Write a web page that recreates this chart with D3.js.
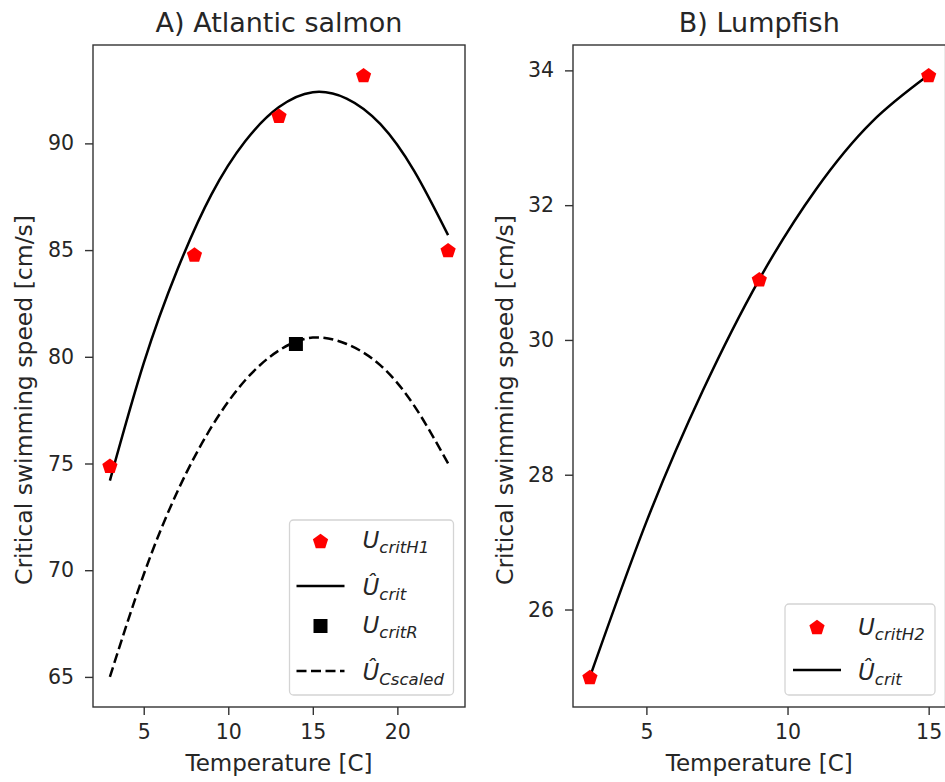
<!DOCTYPE html>
<html>
<head>
<meta charset="utf-8">
<script src="https://cdn.jsdelivr.net/npm/d3@7"></script>
<style>
  body { margin: 0; background: #fff; }
  svg { display: block; font-family: "DejaVu Sans", sans-serif; }
  .tick text { fill: #262626; }
</style>
</head>
<body>
<script>
// data
var salmonTemp = [3, 8, 13, 18, 23];
var salmonUcritH1 = [74.9, 84.8, 91.3, 93.2, 85.0];
var salmonRefTemp = [14];
var salmonUcritR = [80.6];
var salmonFitTemp = [3, 5, 7, 9, 11, 13, 15, 17, 19, 21, 23];
var salmonFitUcrit = [74.2, 79.7, 84.1, 87.6, 90.1, 91.7, 92.4, 92.1, 90.9, 88.7, 85.7];
var salmonFitScaled = [65.0, 69.8, 73.7, 76.7, 78.9, 80.3, 80.9, 80.6, 79.6, 77.7, 75.0];

var lumpTemp = [3, 9, 15];
var lumpUcritH2 = [25.0, 30.9, 33.93];
var lumpFitTemp = [3, 5, 7, 9, 11, 13, 15];
var lumpFitUcrit = [25.0, 27.3, 29.25, 30.9, 32.23, 33.24, 33.93];

var salmonXTicks = [5, 10, 15, 20];
var salmonYTicks = [65, 70, 75, 80, 85, 90];
var lumpXTicks = [5, 10, 15];
var lumpYTicks = [26, 28, 30, 32, 34];

var width = 945, height = 782;
var top_ = 45, bottom_ = 707;

var svg = d3.select("body").append("svg")
    .attr("width", width)
    .attr("height", height);
svg.append("rect").attr("width", width).attr("height", height).attr("fill", "#fff");

// pad the data extent by 5% on each side, like matplotlib does
function padded(vals) {
  var lo = d3.min(vals), hi = d3.max(vals), p = (hi - lo) * 0.05;
  return [lo - p, hi + p];
}

function pentagon(r) {
  var pts = d3.range(5).map(function(i) {
    var a = (-90 + 72 * i) * Math.PI / 180;
    return [r * Math.cos(a), r * Math.sin(a) + r * 0.1];
  });
  return "M" + pts.join("L") + "Z";
}

function zip(a, b) { return a.map(function(d, i) { return [d, b[i]]; }); }

function drawPanel(opt) {
  var x = d3.scaleLinear().domain(padded(opt.xs)).range([opt.left, opt.right]);
  var y = d3.scaleLinear().domain(padded(opt.ys)).range([bottom_, top_]);
  var g = svg.append("g");

  var clipId = "clip" + opt.id;
  svg.append("clipPath").attr("id", clipId)
    .append("rect").attr("x", opt.left).attr("y", top_)
    .attr("width", opt.right - opt.left).attr("height", bottom_ - top_);

  var plot = g.append("g").attr("clip-path", "url(#" + clipId + ")");
  var line = d3.line()
      .x(function(d) { return x(d[0]); })
      .y(function(d) { return y(d[1]); })
      .curve(d3.curveNatural);

  opt.lines.forEach(function(l) {
    plot.append("path")
      .datum(zip(l.xs, l.ys))
      .attr("d", line)
      .attr("fill", "none")
      .attr("stroke", "#000")
      .attr("stroke-width", 2.5)
      .attr("stroke-dasharray", l.dash ? "10,4.5" : null);
  });

  opt.points.forEach(function(p) {
    plot.selectAll(null)
      .data(zip(p.xs, p.ys))
      .enter().append("path")
      .attr("transform", function(d) { return "translate(" + x(d[0]) + "," + y(d[1]) + ")"; })
      .attr("d", p.shape === "square" ? d3.symbol(d3.symbolSquare, 196)() : pentagon(8))
      .attr("fill", p.color);
  });

  // frame
  g.append("rect")
    .attr("x", opt.left).attr("y", top_)
    .attr("width", opt.right - opt.left).attr("height", bottom_ - top_)
    .attr("fill", "none").attr("stroke", "#333").attr("stroke-width", 1.4);

  g.append("g")
    .attr("transform", "translate(0," + bottom_ + ")")
    .call(d3.axisBottom(x).tickValues(opt.xTicks).tickSize(8).tickPadding(9))
    .call(function(a) { a.select(".domain").remove(); })
    .call(function(a) {
      a.selectAll("line").attr("stroke", "#333").attr("stroke-width", 1.4);
      a.selectAll("text").attr("font-size", 20.5).attr("font-family", "DejaVu Sans");
    });

  g.append("g")
    .attr("transform", "translate(" + opt.left + ",0)")
    .call(d3.axisLeft(y).tickValues(opt.yTicks).tickSize(8).tickPadding(11))
    .call(function(a) { a.select(".domain").remove(); })
    .call(function(a) {
      a.selectAll("line").attr("stroke", "#333").attr("stroke-width", 1.4);
      a.selectAll("text").attr("font-size", 20.5).attr("font-family", "DejaVu Sans");
    });

  g.append("text")
    .attr("x", (opt.left + opt.right) / 2).attr("y", 32)
    .attr("text-anchor", "middle").attr("font-size", 27).attr("fill", "#262626")
    .text(opt.title);

  g.append("text")
    .attr("x", (opt.left + opt.right) / 2).attr("y", 771)
    .attr("text-anchor", "middle").attr("font-size", 23).attr("fill", "#262626")
    .text("Temperature [C]");

  g.append("text")
    .attr("transform", "translate(" + opt.ylabelX + ",400) rotate(-90)")
    .attr("text-anchor", "middle").attr("font-size", 23.5).attr("fill", "#262626")
    .text("Critical swimming speed [cm/s]");

  // legend
  var lg = opt.legend;
  g.append("rect")
    .attr("x", lg.x).attr("y", lg.y).attr("width", lg.w).attr("height", lg.h)
    .attr("rx", 4).attr("fill", "#fff").attr("fill-opacity", 0.8)
    .attr("stroke", "#d4d4d4").attr("stroke-width", 1.3);
  lg.items.forEach(function(it) {
    var mx = lg.x + lg.markX;
    if (it.kind === "pent") {
      g.append("path").attr("transform", "translate(" + mx + "," + it.cy + ")")
        .attr("d", pentagon(8)).attr("fill", "red");
    } else if (it.kind === "square") {
      g.append("path").attr("transform", "translate(" + mx + "," + it.cy + ")")
        .attr("d", d3.symbol(d3.symbolSquare, 196)()).attr("fill", "#000");
    } else {
      g.append("line")
        .attr("x1", mx - 24).attr("x2", mx + 24).attr("y1", it.cy).attr("y2", it.cy)
        .attr("stroke", "#000").attr("stroke-width", 2.5)
        .attr("stroke-dasharray", it.kind === "dash" ? "10,4.5" : null);
    }
    var t = g.append("text")
      .attr("x", lg.x + lg.textX).attr("y", it.base)
      .attr("font-style", "italic").attr("fill", "#262626");
    t.append("tspan").attr("font-size", 23).text(it.main);
    t.append("tspan").attr("font-size", 16.5).attr("dy", 5).text(it.sub);
  });
}

drawPanel({
  id: "A", title: "A) Atlantic salmon", left: 93, right: 465, ylabelX: 32,
  xs: salmonTemp.concat(salmonFitTemp),
  ys: salmonUcritH1.concat(salmonFitUcrit, salmonFitScaled, salmonUcritR),
  xTicks: salmonXTicks, yTicks: salmonYTicks,
  lines: [
    { xs: salmonFitTemp, ys: salmonFitUcrit, dash: false },
    { xs: salmonFitTemp, ys: salmonFitScaled, dash: true }
  ],
  points: [
    { xs: salmonTemp, ys: salmonUcritH1, color: "red", shape: "pent" },
    { xs: salmonRefTemp, ys: salmonUcritR, color: "#000", shape: "square" }
  ],
  legend: {
    x: 289.5, y: 520, w: 164, h: 175, markX: 31, textX: 73,
    items: [
      { kind: "pent", cy: 541, base: 548, main: "U", sub: "critH1" },
      { kind: "line", cy: 586, base: 595, main: "\u00DB", sub: "crit" },
      { kind: "square", cy: 626, base: 633, main: "U", sub: "critR" },
      { kind: "dash", cy: 671, base: 680, main: "\u00DB", sub: "Cscaled" }
    ]
  }
});

drawPanel({
  id: "B", title: "B) Lumpfish", left: 573, right: 945.6, ylabelX: 513,
  xs: lumpTemp.concat(lumpFitTemp),
  ys: lumpUcritH2.concat(lumpFitUcrit),
  xTicks: lumpXTicks, yTicks: lumpYTicks,
  lines: [ { xs: lumpFitTemp, ys: lumpFitUcrit, dash: false } ],
  points: [ { xs: lumpTemp, ys: lumpUcritH2, color: "red", shape: "pent" } ],
  legend: {
    x: 785, y: 604, w: 150, h: 91, markX: 32, textX: 73,
    items: [
      { kind: "pent", cy: 627, base: 635, main: "U", sub: "critH2" },
      { kind: "line", cy: 670, base: 680, main: "\u00DB", sub: "crit" }
    ]
  }
});
</script>
</body>
</html>
